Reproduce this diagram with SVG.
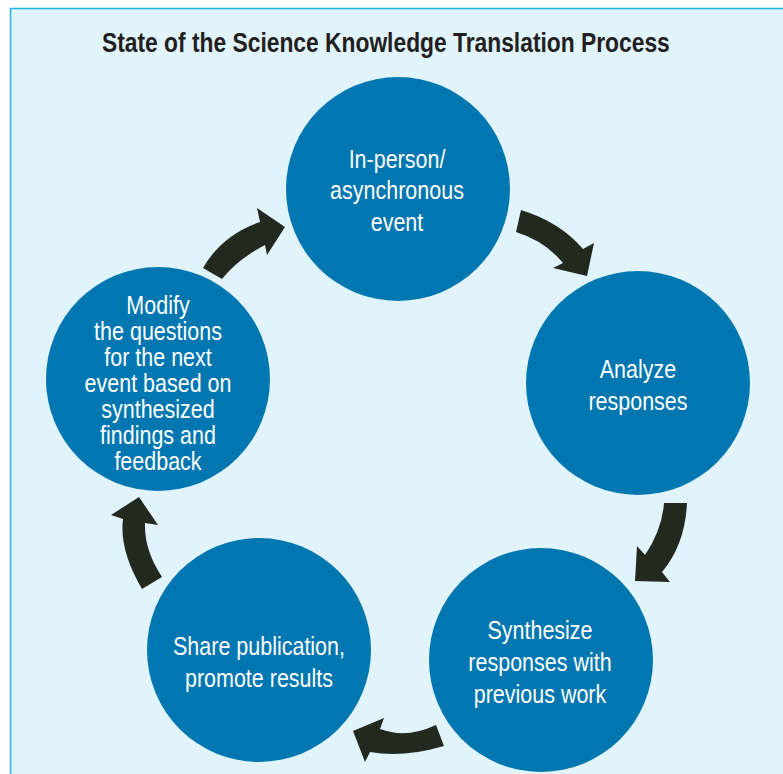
<svg xmlns="http://www.w3.org/2000/svg" width="783" height="774" viewBox="0 0 783 774">
<style>
.bg{fill:#E1F3FB;stroke:#22B4EC;stroke-width:1.5}
.node circle{fill:#0077B1}
.node text{fill:#FFFFFF;font-family:'Liberation Sans',Arial,sans-serif;font-size:25px;text-anchor:middle}
.title{fill:#231F20;font-family:'Liberation Sans',Arial,sans-serif;font-size:27px;font-weight:bold}
.arrow{fill:#22291F}
</style>
<rect class="bg" x="10.5" y="8.5" width="800" height="800"/>
<g transform="translate(102,52) scale(0.845,1)">
<text class="title" x="0" y="0">State of the Science Knowledge Translation Process</text>
</g>
<g id="n1" class="node">
<circle cx="398" cy="189" r="112"/>
<g transform="translate(397,0) scale(0.86,1)">
<text x="0" y="168">In-person/</text>
<text x="0" y="199">asynchronous</text>
<text x="0" y="231">event</text>
</g>
</g>
<g id="n2" class="node">
<circle cx="638" cy="383" r="112"/>
<g transform="translate(638,0) scale(0.86,1)">
<text x="0" y="378">Analyze</text>
<text x="0" y="410">responses</text>
</g>
</g>
<g id="n3" class="node">
<circle cx="541" cy="660" r="112"/>
<g transform="translate(540,0) scale(0.86,1)">
<text x="0" y="639">Synthesize</text>
<text x="0" y="671">responses with</text>
<text x="0" y="703">previous work</text>
</g>
</g>
<g id="n4" class="node">
<circle cx="259" cy="650" r="112"/>
<g transform="translate(259,0) scale(0.86,1)">
<text x="0" y="655">Share publication,</text>
<text x="0" y="687">promote results</text>
</g>
</g>
<g id="n5" class="node">
<circle cx="158" cy="379" r="112"/>
<g transform="translate(158,0) scale(0.86,1)">
<text x="0" y="314">Modify</text>
<text x="0" y="340">the questions</text>
<text x="0" y="366">for the next</text>
<text x="0" y="392">event based on</text>
<text x="0" y="418">synthesized</text>
<text x="0" y="444">findings and</text>
<text x="0" y="470">feedback</text>
</g>
</g>
<g id="connectors" class="arrow">
<path d="M521,210 Q560,222 583,249 L594,243 L587,276 L553,268 L563,263 Q545,241 516,232 Z"/>
<path d="M664,503 L687,503 Q685,545 662,572 L670,582 L635,581 L637,546 L645,555 Q662,530 664,503 Z"/>
<path d="M436,725 Q406,739 380,729 L384,718 L353,731 L365,762 L370,752 Q403,758 444,746 Z"/>
<path d="M142,589 Q119,550 123,519 L111,515 L139,497 L158,525 L145,523 Q144,550 162,577 Z"/>
<path d="M203,268 Q222,235 260,222 L257,208 L285,227 L267,255 L265,245 Q238,259 222,279 Z"/>
</g>
</svg>
